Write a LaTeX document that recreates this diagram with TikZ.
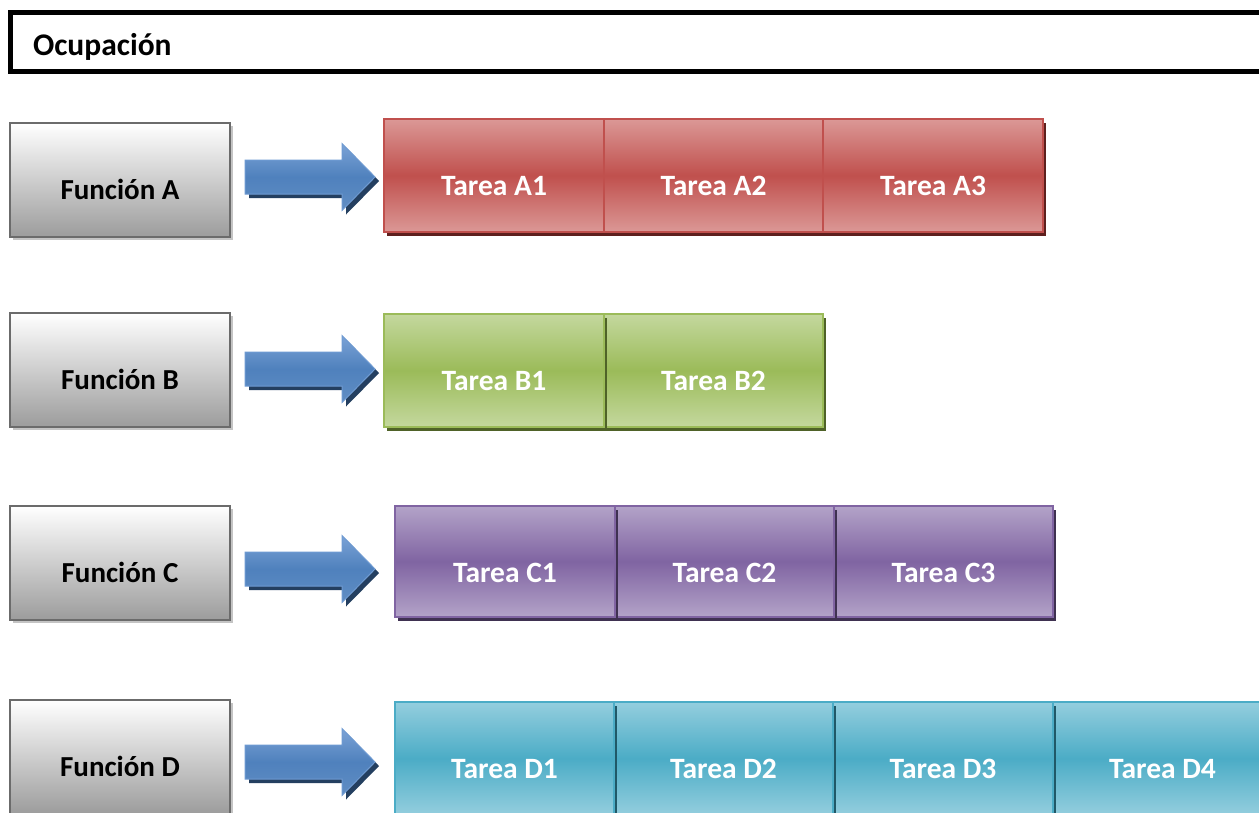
\documentclass[tikz,border=0pt]{standalone}
\usepackage{fontspec}
\setmainfont{Carlito}
\usetikzlibrary{shadows}

% palette
\definecolor{funcborder}{HTML}{6B6B6B}
\definecolor{funcbottom}{HTML}{9C9C9C}
\definecolor{funcshadow}{HTML}{C4C4C4}
\definecolor{arrowmid}{HTML}{4F81BD}
\definecolor{arrowlight}{HTML}{7BA2D6}
\definecolor{arrowborder}{HTML}{6E9AD2}
\definecolor{arrowshadow}{HTML}{243F60}
\definecolor{rojo}{HTML}{C0504D}
\definecolor{rojoL}{HTML}{DB9896}
\definecolor{rojoD}{HTML}{5E201E}
\definecolor{verde}{HTML}{9BBB59}
\definecolor{verdeL}{HTML}{C4D89E}
\definecolor{verdeD}{HTML}{4F6228}
\definecolor{lila}{HTML}{8064A2}
\definecolor{lilaL}{HTML}{B3A3C8}
\definecolor{lilaD}{HTML}{3F3151}
\definecolor{aqua}{HTML}{4BACC6}
\definecolor{aquaL}{HTML}{94CEDE}
\definecolor{aquaD}{HTML}{205867}

\newcommand\flecha[1]{%
  % shadow, then the shaded arrow body
  \fill[arrowshadow, shift={(#1)}, xshift=4pt, yshift=-4pt]
    (-130,-17) -- (-33,-17) -- (-33,-33.5) -- (0,0) -- (-33,33.5) -- (-33,17) -- (-130,17) -- cycle;
  \path[shift={(#1)}, draw=arrowborder, line width=1pt,
        top color=arrowlight, bottom color=arrowmid!90!white, middle color=arrowmid]
    (-130,-17) -- (-33,-17) -- (-33,-33.5) -- (0,0) -- (-33,33.5) -- (-33,17) -- (-130,17) -- cycle;
}

\begin{document}
\begin{tikzpicture}[x=1pt, y=-1pt, every node/.style={outer sep=0pt},
  titlebox/.style={draw=black, line width=5pt, minimum width=1270pt, minimum height=59pt,
    inner sep=0pt, anchor=north west},
  titletext/.style={anchor=base west, inner sep=0pt, font=\fontsize{31.5}{36}\selectfont\bfseries},
  funcbox/.style={draw=funcborder, line width=2.5pt, top color=white, bottom color=funcbottom,
    minimum width=220pt, minimum height=114pt, inner sep=0pt, anchor=north west,
    drop shadow={shadow xshift=3pt, shadow yshift=-3pt, fill=funcshadow, opacity=1}},
  funclabel/.style={anchor=base, inner sep=0pt, font=\fontsize{29}{34}\selectfont\bfseries, text=black},
  cell/.style={draw=#1, line width=2pt, top color=#1L, bottom color=#1L, middle color=#1,
    inner sep=0pt, anchor=north west,
    drop shadow={shadow xshift=3pt, shadow yshift=-4pt, fill=#1D, opacity=1}},
  celllabel/.style={anchor=base, inner sep=0pt, font=\fontsize{29.5}{34}\selectfont\bfseries, text=white},
]
\clip (0,0) rectangle (1259,812);
\fill[white] (0,0) rectangle (1259,812);

% heading
\node[titlebox] (head) at (10.5,12.5) {};
\node[titletext] (headtxt) at (33,55) {Ocupación};

% function boxes
\node[funcbox] (fA) at (10,123) {};
\node[funclabel] (fAt) at ([yshift=-76pt]fA.north) {Función A};
\node[funcbox] (fB) at (10,313) {};
\node[funclabel] (fBt) at ([yshift=-76pt]fB.north) {Función B};
\node[funcbox] (fC) at (10,506) {};
\node[funclabel] (fCt) at ([yshift=-76pt]fC.north) {Función C};
\node[funcbox] (fD) at (10,700) {};
\node[funclabel] (fDt) at ([yshift=-76pt]fD.north) {Función D};

% arrow tips
\coordinate (tipA) at (375,177);
\coordinate (tipB) at (375,369);
\coordinate (tipC) at (375,569);
\coordinate (tipD) at (375,762);
\flecha{tipA}
\flecha{tipB}
\flecha{tipC}
\flecha{tipD}

% row A (drawn left to right)
\node[cell=rojo, minimum width=220pt, minimum height=113pt] (a1) at (384,119) {};
\node[cell=rojo, minimum width=219pt, minimum height=113pt] (a2) at (604,119) {};
\node[cell=rojo, minimum width=220pt, minimum height=113pt] (a3) at (823,119) {};
\node[celllabel] (a1t) at ([yshift=-76pt]a1.north) {Tarea A1};
\node[celllabel] (a2t) at ([yshift=-76pt]a2.north) {Tarea A2};
\node[celllabel] (a3t) at ([yshift=-76pt]a3.north) {Tarea A3};

% row B (drawn right to left)
\node[cell=verde, minimum width=219pt, minimum height=113pt] (b2) at (604,314) {};
\node[cell=verde, minimum width=220pt, minimum height=113pt] (b1) at (384,314) {};
\node[celllabel] (b1t) at ([yshift=-76pt]b1.north) {Tarea B1};
\node[celllabel] (b2t) at ([yshift=-76pt]b2.north) {Tarea B2};

% row C (drawn right to left)
\node[cell=lila, minimum width=219pt, minimum height=111pt] (c3) at (834,506) {};
\node[cell=lila, minimum width=219pt, minimum height=111pt] (c2) at (615,506) {};
\node[cell=lila, minimum width=220pt, minimum height=111pt] (c1) at (395,506) {};
\node[celllabel] (c1t) at ([yshift=-76pt]c1.north) {Tarea C1};
\node[celllabel] (c2t) at ([yshift=-76pt]c2.north) {Tarea C2};
\node[celllabel] (c3t) at ([yshift=-76pt]c3.north) {Tarea C3};

% row D (drawn right to left)
\node[cell=aqua, minimum width=219pt, minimum height=113pt] (d4) at (1053,702) {};
\node[cell=aqua, minimum width=220pt, minimum height=113pt] (d3) at (833,702) {};
\node[cell=aqua, minimum width=219pt, minimum height=113pt] (d2) at (614,702) {};
\node[cell=aqua, minimum width=219pt, minimum height=113pt] (d1) at (395,702) {};
\node[celllabel] (d1t) at ([yshift=-76pt]d1.north) {Tarea D1};
\node[celllabel] (d2t) at ([yshift=-76pt]d2.north) {Tarea D2};
\node[celllabel] (d3t) at ([yshift=-76pt]d3.north) {Tarea D3};
\node[celllabel] (d4t) at ([yshift=-76pt]d4.north) {Tarea D4};
\end{tikzpicture}
\end{document}
